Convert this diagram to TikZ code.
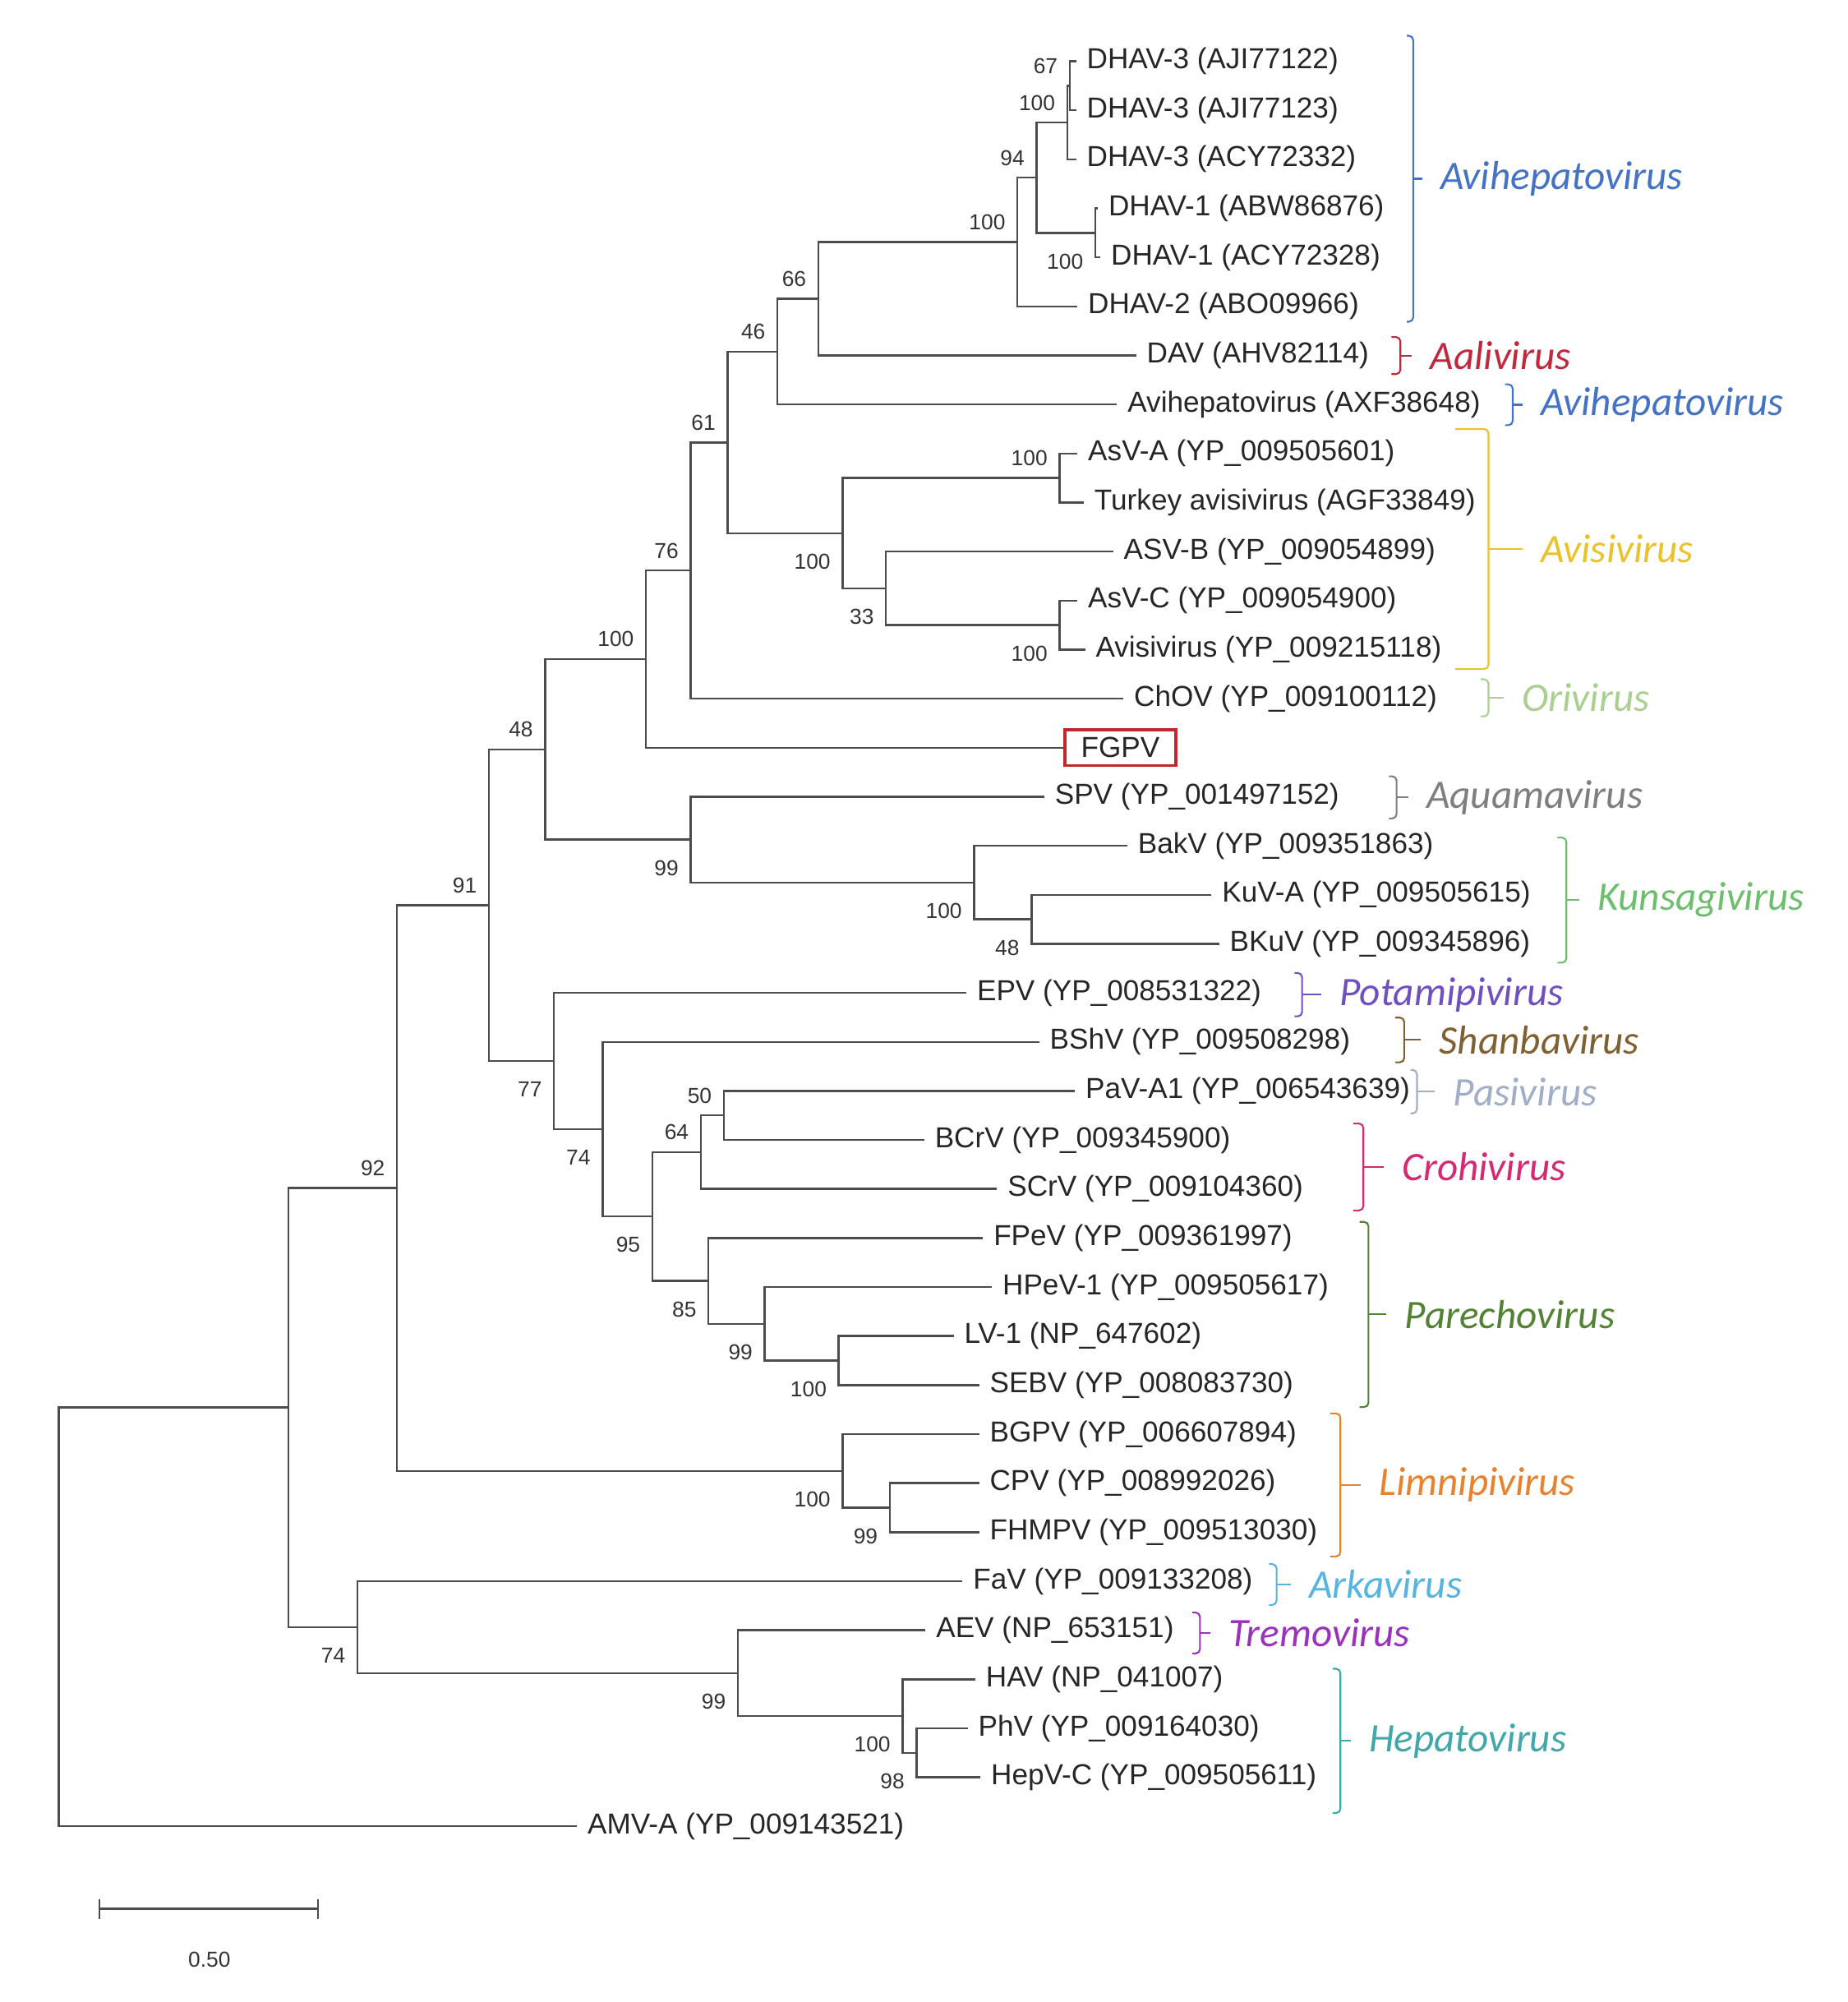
\documentclass[tikz,border=0pt]{standalone}
\usepackage{fontspec}
\setmainfont{Liberation Sans}
\newfontfamily\genusfont{Carlito}

\definecolor{avihepblue}{HTML}{4472C4}
\definecolor{aalired}{HTML}{C0283C}
\definecolor{avisigold}{HTML}{EBC12E}
\definecolor{origreen}{HTML}{A9D08E}
\definecolor{aquagray}{HTML}{7F7F7F}
\definecolor{kunsgreen}{HTML}{6CBF6C}
\definecolor{potapurple}{HTML}{7050C0}
\definecolor{shanbrown}{HTML}{806030}
\definecolor{pasigray}{HTML}{A0AEC8}
\definecolor{crohpink}{HTML}{D42A74}
\definecolor{paregreen}{HTML}{548235}
\definecolor{limniorange}{HTML}{E8822E}
\definecolor{arkablue}{HTML}{56B4E0}
\definecolor{tremopurple}{HTML}{9933BB}
\definecolor{hepatoteal}{HTML}{40A8A8}
\definecolor{fgpvred}{HTML}{C0282D}

\tikzset{
  branch/.style={line width=0.7pt, draw=black!70},
  taxon/.style={anchor=west, inner xsep=3.5pt, inner ysep=1pt, text=black!85,
    font=\fontsize{10}{12}\selectfont},
  bup/.style={anchor=south east, inner sep=4pt, text=black!80,
    font=\fontsize{7.5}{9}\selectfont},
  bdown/.style={anchor=north east, inner xsep=4pt, inner ysep=7pt, text=black!80,
    font=\fontsize{7.5}{9}\selectfont},
  brace/.style={line width=0.6pt, rounded corners=1.5pt},
  genuslab/.style={anchor=west, inner sep=0pt,
    font=\genusfont\itshape\fontsize{14}{16}\selectfont},
}

% genus bracket: name, colour, x, top, bottom, hook, tick, text
\newcommand{\genus}[8]{%
  \pgfmathsetmacro{\gmid}{(#4+#5)/2}
  \draw[brace,#2] (#3-#6,#4) -- (#3,#4) -- (#3,#5) -- (#3-#6,#5);
  \draw[brace,#2] (#3,\gmid) -- ++(#7,0) coordinate (#1tick);
  \node[genuslab,text=#2] (#1) at (#3+#7+14,\gmid) {#8};
}

\begin{document}
\begin{tikzpicture}[x=0.015536cm, y=-0.015536cm]
  \useasboundingbox (0,0) rectangle (1447,1568);

  % tips
  \node[taxon] (t1) at (843,48) {DHAV-3 (AJI77122)};
  \node[taxon] (t2) at (843,86.4) {DHAV-3 (AJI77123)};
  \node[taxon] (t3) at (843,124.8) {DHAV-3 (ACY72332)};
  \node[taxon] (t4) at (860,163.2) {DHAV-1 (ABW86876)};
  \node[taxon] (t5) at (862,201.6) {DHAV-1 (ACY72328)};
  \node[taxon] (t6) at (844,240) {DHAV-2 (ABO09966)};
  \node[taxon] (t7) at (890,278.4) {DAV (AHV82114)};
  \node[taxon] (t8) at (875,316.8) {Avihepatovirus (AXF38648)};
  \node[taxon] (t9) at (844,355.2) {AsV-A (YP\_009505601)};
  \node[taxon] (t10) at (849,393.6) {Turkey avisivirus (AGF33849)};
  \node[taxon] (t11) at (872,432) {ASV-B (YP\_009054899)};
  \node[taxon] (t12) at (844,470.4) {AsV-C (YP\_009054900)};
  \node[taxon] (t13) at (850,508.8) {Avisivirus (YP\_009215118)};
  \node[taxon] (t14) at (880,547.2) {ChOV (YP\_009100112)};
  \node[taxon, draw=fgpvred, line width=1pt, minimum height=0.435cm,
    minimum width=1.35cm, inner xsep=2pt] (t15) at (833,585.6) {FGPV};
  \node[taxon] (t16) at (818,624) {SPV (YP\_001497152)};
  \node[taxon] (t17) at (883,662.4) {BakV (YP\_009351863)};
  \node[taxon] (t18) at (949,700.8) {KuV-A (YP\_009505615)};
  \node[taxon] (t19) at (955,739.2) {BKuV (YP\_009345896)};
  \node[taxon] (t20) at (757,777.6) {EPV (YP\_008531322)};
  \node[taxon] (t21) at (814,816) {BShV (YP\_009508298)};
  \node[taxon] (t22) at (842,854.4) {PaV-A1 (YP\_006543639)};
  \node[taxon] (t23) at (724,892.8) {BCrV (YP\_009345900)};
  \node[taxon] (t24) at (781,931.2) {SCrV (YP\_009104360)};
  \node[taxon] (t25) at (770,969.6) {FPeV (YP\_009361997)};
  \node[taxon] (t26) at (777,1008) {HPeV-1 (YP\_009505617)};
  \node[taxon] (t27) at (747,1046.4) {LV-1 (NP\_647602)};
  \node[taxon] (t28) at (767,1084.8) {SEBV (YP\_008083730)};
  \node[taxon] (t29) at (767,1123.2) {BGPV (YP\_006607894)};
  \node[taxon] (t30) at (767,1161.6) {CPV (YP\_008992026)};
  \node[taxon] (t31) at (767,1200) {FHMPV (YP\_009513030)};
  \node[taxon] (t32) at (754,1238.4) {FaV (YP\_009133208)};
  \node[taxon] (t33) at (725,1276.8) {AEV (NP\_653151)};
  \node[taxon] (t34) at (764,1315.2) {HAV (NP\_041007)};
  \node[taxon] (t35) at (758,1353.6) {PhV (YP\_009164030)};
  \node[taxon] (t36) at (768,1392) {HepV-C (YP\_009505611)};
  \node[taxon] (t37) at (452,1430.4) {AMV-A (YP\_009143521)};

  % internal nodes
  \coordinate (dhavIII) at (838,67.2);
  \coordinate (dhavIIIall) at (836,96);
  \coordinate (dhavI) at (858,182.4);
  \coordinate (dhavIandIII) at (812,139.2);
  \coordinate (dhav) at (797,189.6);
  \coordinate (aali) at (641,234);
  \coordinate (avihep) at (609,275.4);
  \coordinate (avisAB) at (830,374.4);
  \coordinate (avisC) at (830,489.6);
  \coordinate (avisBC) at (694,460.8);
  \coordinate (avis) at (660,417.6);
  \coordinate (aviClade) at (570,346.5);
  \coordinate (ori) at (541,446.8);
  \coordinate (fgpvClade) at (506,516.2);
  \coordinate (kunsBK) at (808,720);
  \coordinate (kuns) at (763,691.2);
  \coordinate (aquaKuns) at (541,657.6);
  \coordinate (upper) at (427,586.9);
  \coordinate (pasiCro) at (567,873.6);
  \coordinate (cro) at (549,902.4);
  \coordinate (lvSebv) at (657,1065.6);
  \coordinate (hpev) at (599,1036.8);
  \coordinate (pare) at (555,1003.2);
  \coordinate (croPare) at (511,952.8);
  \coordinate (shan) at (472,884.4);
  \coordinate (pota) at (434,831);
  \coordinate (mainClade) at (383,709);
  \coordinate (cpvFhm) at (697,1180.8);
  \coordinate (limni) at (660,1152);
  \coordinate (ingroup) at (311,930.5);
  \coordinate (phvHep) at (718,1372.8);
  \coordinate (hepato) at (707,1344);
  \coordinate (tremoHep) at (578,1310.4);
  \coordinate (arka) at (280,1274.4);
  \coordinate (base) at (226,1102.4);
  \coordinate (root) at (46,1102.4);

  % branches
  \draw[branch] (t1) -| (dhavIII) |- (t2);
  \draw[branch] (dhavIII) -| (dhavIIIall) |- (t3);
  \draw[branch] (t4) -| (dhavI) |- (t5);
  \draw[branch] (dhavIIIall) -| (dhavIandIII) |- (dhavI);
  \draw[branch] (dhavIandIII) -| (dhav) |- (t6);
  \draw[branch] (dhav) -| (aali) |- (t7);
  \draw[branch] (aali) -| (avihep) |- (t8);
  \draw[branch] (t9) -| (avisAB) |- (t10);
  \draw[branch] (t12) -| (avisC) |- (t13);
  \draw[branch] (t11) -| (avisBC) |- (avisC);
  \draw[branch] (avisAB) -| (avis) |- (avisBC);
  \draw[branch] (avihep) -| (aviClade) |- (avis);
  \draw[branch] (aviClade) -| (ori) |- (t14);
  \draw[branch] (ori) -| (fgpvClade) |- (t15);
  \draw[branch] (t18) -| (kunsBK) |- (t19);
  \draw[branch] (t17) -| (kuns) |- (kunsBK);
  \draw[branch] (t16) -| (aquaKuns) |- (kuns);
  \draw[branch] (fgpvClade) -| (upper) |- (aquaKuns);
  \draw[branch] (t22) -| (pasiCro) |- (t23);
  \draw[branch] (pasiCro) -| (cro) |- (t24);
  \draw[branch] (t27) -| (lvSebv) |- (t28);
  \draw[branch] (t26) -| (hpev) |- (lvSebv);
  \draw[branch] (t25) -| (pare) |- (hpev);
  \draw[branch] (cro) -| (croPare) |- (pare);
  \draw[branch] (t21) -| (shan) |- (croPare);
  \draw[branch] (t20) -| (pota) |- (shan);
  \draw[branch] (upper) -| (mainClade) |- (pota);
  \draw[branch] (t30) -| (cpvFhm) |- (t31);
  \draw[branch] (t29) -| (limni) |- (cpvFhm);
  \draw[branch] (mainClade) -| (ingroup) |- (limni);
  \draw[branch] (t35) -| (phvHep) |- (t36);
  \draw[branch] (t34) -| (hepato) |- (phvHep);
  \draw[branch] (t33) -| (tremoHep) |- (hepato);
  \draw[branch] (t32) -| (arka) |- (tremoHep);
  \draw[branch] (ingroup) -| (base) |- (arka);
  \draw[branch] (base) -| (root) |- (t37);

  % bootstrap values
  \node[bup] (b67) at (dhavIII) {67};
  \node[bup] (b100dhavIII) at (dhavIIIall) {100};
  \node[bdown] (b100dhavI) at (dhavI) {100};
  \node[bup] (b94) at (dhavIandIII) {94};
  \node[bup] (b100dhav) at (dhav) {100};
  \node[bup] (b66) at (aali) {66};
  \node[bup] (b46) at (avihep) {46};
  \node[bup] (b100avisAB) at (avisAB) {100};
  \node[bdown] (b100avisC) at (avisC) {100};
  \node[bdown] (b33) at (avisBC) {33};
  \node[bdown] (b100avis) at (avis) {100};
  \node[bup] (b61) at (aviClade) {61};
  \node[bup] (b76) at (ori) {76};
  \node[bup] (b100fgpv) at (fgpvClade) {100};
  \node[bdown] (b48kuns) at (kunsBK) {48};
  \node[bdown] (b100kuns) at (kuns) {100};
  \node[bdown] (b99aqua) at (aquaKuns) {99};
  \node[bup] (b48) at (upper) {48};
  \node[bup] (b50) at (pasiCro) {50};
  \node[bup] (b64) at (cro) {64};
  \node[bdown] (b100lv) at (lvSebv) {100};
  \node[bdown] (b99hpev) at (hpev) {99};
  \node[bdown] (b85) at (pare) {85};
  \node[bdown] (b95) at (croPare) {95};
  \node[bdown] (b74shan) at (shan) {74};
  \node[bdown] (b77) at (pota) {77};
  \node[bup] (b91) at (mainClade) {91};
  \node[bdown] (b99cpv) at (cpvFhm) {99};
  \node[bdown] (b100limni) at (limni) {100};
  \node[bup] (b92) at (ingroup) {92};
  \node[bdown] (b98) at (phvHep) {98};
  \node[bdown] (b100hep) at (hepato) {100};
  \node[bdown] (b99tremo) at (tremoHep) {99};
  \node[bdown] (b74) at (arka) {74};

  % genera
  \genus{gAvihep}{avihepblue}{1107}{28}{252}{5}{7}{Avihepatovirus}
  \genus{gAali}{aalired}{1097}{264}{293}{7}{9}{Aalivirus}
  \genus{gAvihepB}{avihepblue}{1185}{301}{333}{6}{8}{Avihepatovirus}
  \genus{gAvisi}{avisigold}{1166}{336}{524}{26}{27}{Avisivirus}
  \genus{gOri}{origreen}{1166}{532}{561}{6}{12}{Orivirus}
  \genus{gAqua}{aquagray}{1094}{608}{641}{6}{9}{Aquamavirus}
  \genus{gKuns}{kunsgreen}{1227}{656}{754}{7}{10}{Kunsagivirus}
  \genus{gPota}{potapurple}{1020}{762}{796}{6}{15}{Potamipivirus}
  \genus{gShan}{shanbrown}{1100}{797}{832}{7}{13}{Shanbavirus}
  \genus{gPasi}{pasigray}{1110}{838}{872}{5}{14}{Pasivirus}
  \genus{gCroh}{crohpink}{1068}{880}{948}{8}{16}{Crohivirus}
  \genus{gPare}{paregreen}{1072}{957}{1102}{7}{14}{Parechovirus}
  \genus{gLimni}{limniorange}{1050}{1107}{1219}{8}{16}{Limnipivirus}
  \genus{gArka}{arkablue}{1000}{1225}{1257}{6}{11}{Arkavirus}
  \genus{gTremo}{tremopurple}{940}{1263}{1295}{6}{8}{Tremovirus}
  \genus{gHepato}{hepatoteal}{1050}{1307}{1420}{6}{8}{Hepatovirus}

  % scale bar
  \coordinate (sbL) at (77,1495);
  \coordinate (sbR) at (250,1495);
  \draw[branch,|-|] (sbL) -- (sbR);
  \node[font=\fontsize{7.5}{9}\selectfont, text=black!80] (sbText) at (164,1535) {0.50};
\end{tikzpicture}
\end{document}
